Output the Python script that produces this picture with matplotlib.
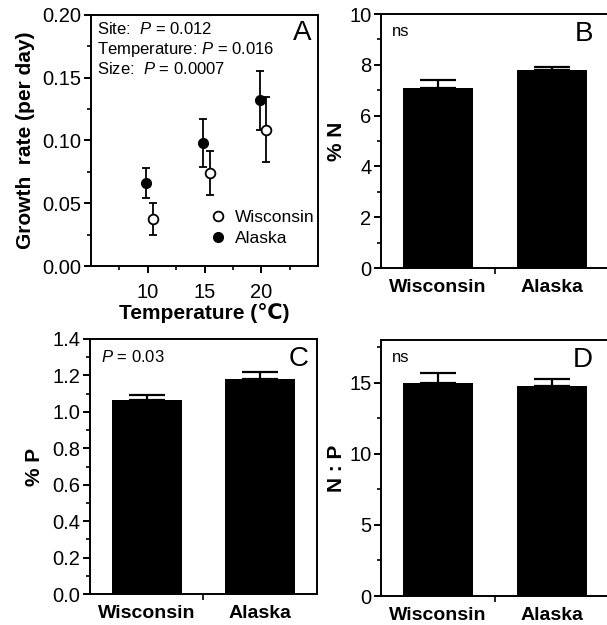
import numpy as np
import matplotlib
matplotlib.use("Agg")
import matplotlib.pyplot as plt
from matplotlib.ticker import MultipleLocator, FixedLocator
from matplotlib.lines import Line2D

plt.rcParams['font.family'] = ['Liberation Sans', 'DejaVu Sans']
plt.rcParams['mathtext.fontset'] = 'custom'
plt.rcParams['mathtext.rm'] = 'Liberation Sans'
plt.rcParams['mathtext.it'] = 'Liberation Sans:italic'

# panel A: growth rate vs temperature
temps = [10, 15, 20]
alaska_rate = [0.066, 0.098, 0.132]
alaska_err = [0.012, 0.0195, 0.0235]
wisc_rate = [0.0375, 0.074, 0.1085]
wisc_err = [0.013, 0.0175, 0.026]

# panels B-D: tissue nutrients by site
sites = ['Wisconsin', 'Alaska']
pct_n = [7.1, 7.78]
pct_n_se = [0.31, 0.14]
pct_p = [1.065, 1.18]
pct_p_se = [0.03, 0.04]
np_ratio = [15.0, 14.8]
np_ratio_se = [0.67, 0.45]

fig = plt.figure(figsize=(6.07, 6.25), dpi=100)

axA = fig.add_axes([0.150, 0.5744, 0.374, 0.4016])
axB = fig.add_axes([0.6277, 0.5712, 0.3756, 0.4064])
axC = fig.add_axes([0.1483, 0.0496, 0.3735, 0.408])
axD = fig.add_axes([0.6277, 0.0464, 0.3756, 0.4096])

for ax in [axA, axB, axC, axD]:
    for s in ax.spines.values():
        s.set_linewidth(1.4)
    ax.tick_params(which='major', direction='out', length=5, width=1.4, labelsize=14.5)
    ax.tick_params(which='minor', direction='out', length=3, width=1.2)
    ax.tick_params(axis='y', pad=2)

# ---- A ----
ta = np.array(temps) - 0.15
tw = np.array(temps) + 0.45
axA.errorbar(tw, wisc_rate, yerr=wisc_err, fmt='o', color='black', mfc='white',
             mec='black', mew=1.3, ms=7, elinewidth=1.3, capsize=3, capthick=1.3,
             zorder=3)
axA.errorbar(ta, alaska_rate, yerr=alaska_err, fmt='o', color='black', mfc='black',
             mec='black', ms=7, elinewidth=1.3, capsize=3, capthick=1.3,
             zorder=3)
axA.set_xlim(5, 25)
axA.set_ylim(0, 0.20)
axA.set_xticks([10, 15, 20])
axA.xaxis.set_minor_locator(FixedLocator([7.5, 12.5, 17.5, 22.5]))
axA.yaxis.set_major_locator(MultipleLocator(0.05))
axA.yaxis.set_minor_locator(MultipleLocator(0.025))
axA.set_yticklabels([f'{v:.2f}' for v in axA.get_yticks()])
axA.tick_params(axis='x', pad=7)
axA.set_xlabel('Temperature (\u2103)', fontsize=15, fontweight='bold', labelpad=1)
axA.set_ylabel('Growth  rate (per day)', fontsize=15, fontweight='bold', labelpad=5)
axA.text(0.026, 0.944, 'Site:  $P$ = 0.012', transform=axA.transAxes, fontsize=12, va='center')
axA.text(0.026, 0.861, 'Temperature: $P$ = 0.016', transform=axA.transAxes, fontsize=12, va='center')
axA.text(0.026, 0.785, 'Size:  $P$ = 0.0007', transform=axA.transAxes, fontsize=12, va='center')
axA.text(0.97, 0.93, 'A', transform=axA.transAxes, fontsize=20, ha='right', va='center')
handles = [Line2D([], [], ls='', marker='o', ms=7, mfc='white', mec='black', mew=1.3),
           Line2D([], [], ls='', marker='o', ms=7, mfc='black', mec='black')]
axA.legend(handles, ['Wisconsin', 'Alaska'], loc='lower right', bbox_to_anchor=(1.04, 0.03),
           frameon=False, fontsize=12.5, handletextpad=0.4, labelspacing=0.35,
           handlelength=1.2, borderaxespad=0.3)

# ---- bar panels ----
def bar_panel(ax, vals, errs, ymax, major, minor, ylabel, note, letter, lpad):
    x = np.arange(len(sites))
    ax.bar(x, vals, width=0.62, color='black', zorder=2)
    ax.errorbar(x, vals, yerr=[np.zeros(len(vals)), errs], fmt='none', ecolor='black',
                elinewidth=1.6, capsize=13, capthick=1.6, zorder=1)
    ax.set_xlim(-0.5, 1.5)
    ax.set_ylim(0, ymax)
    ax.set_xticks(x)
    ax.set_xticklabels(sites, fontsize=14, fontweight='bold')
    ax.tick_params(axis='x', which='major', length=0, pad=8)
    ax.xaxis.set_minor_locator(FixedLocator([0.5]))
    ax.tick_params(axis='x', which='minor', length=4)
    ax.yaxis.set_major_locator(MultipleLocator(major))
    ax.yaxis.set_minor_locator(MultipleLocator(minor))
    ax.set_ylabel(ylabel, fontsize=15, fontweight='bold', labelpad=lpad)
    ax.text(0.05, 0.93, note, transform=ax.transAxes, fontsize=12, va='center')
    ax.text(0.93, 0.92, letter, transform=ax.transAxes, fontsize=20, ha='right', va='center')

bar_panel(axB, pct_n, pct_n_se, 10, 2, 1, '% N', 'ns', 'B', 2)
bar_panel(axC, pct_p, pct_p_se, 1.4, 0.2, 0.1, '% P', '$P$ = 0.03', 'C', 6)
axC.set_yticklabels([f'{v:.1f}' for v in axC.get_yticks()])
bar_panel(axD, np_ratio, np_ratio_se, 18, 5, 2.5, 'N : P', 'ns', 'D', 2)
axC.texts[-1].set_position((0.965, 0.92))

fig.savefig('out.png', dpi=100)
